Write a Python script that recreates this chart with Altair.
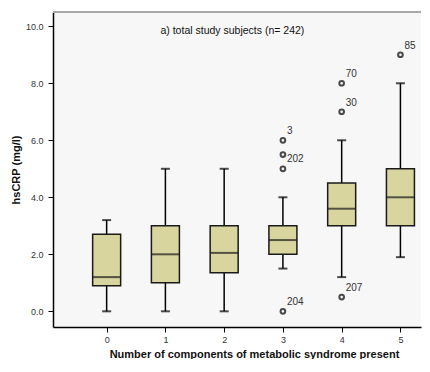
import altair as alt
import pandas as pd

# ---- data ----
groups = [0, 1, 2, 3, 4, 5]
whisker_low = [0.0, 0.0, 0.0, 1.5, 1.2, 1.9]
q1 = [0.9, 1.0, 1.35, 2.0, 3.0, 3.0]
median = [1.2, 2.0, 2.05, 2.5, 3.6, 4.0]
q3 = [2.7, 3.0, 3.0, 3.0, 4.5, 5.0]
whisker_high = [3.2, 5.0, 5.0, 4.0, 6.0, 8.0]

outlier_group = [3, 3, 3, 3, 4, 4, 4, 5]
outlier_value = [6.0, 5.5, 5.0, 0.0, 8.0, 7.0, 0.5, 9.0]
outlier_label = ["3", "202", "", "204", "70", "30", "207", "85"]
outlier_side = ["up", "right", "none", "up", "up", "up", "up", "up"]

title_text = "a) total study subjects (n= 242)"

box_df = pd.DataFrame({
    "g": groups, "lo": whisker_low, "q1": q1, "med": median,
    "q3": q3, "hi": whisker_high,
})
out_df = pd.DataFrame({
    "g": outlier_group, "v": outlier_value,
    "lab": outlier_label, "side": outlier_side,
})

FONT = "Liberation Sans"
W = 368
H = 315
xscale = alt.Scale(domain=[-0.828, 5.265], nice=False, zero=False)
yscale = alt.Scale(domain=[-0.55, 10.5], nice=False, zero=False)

xenc = alt.X("g:Q", scale=xscale, axis=alt.Axis(
    values=groups, format="d", title="Number of components of metabolic syndrome present",
    grid=False, domainColor="#000000", tickColor="#000000", tickSize=5,
    labelFont=FONT, labelFontSize=9, labelColor="#333333", labelPadding=3,
    titleFont=FONT, titleFontSize=11, titleFontWeight="bold", titleColor="#111111",
    titlePadding=4, titleX=201, titleAlign="center", domainWidth=1.5))

base = alt.Chart(box_df)

whisk = base.mark_rule(color="#000000", strokeWidth=1.5).encode(
    x=xenc,
    y=alt.Y("lo:Q", scale=yscale, axis=alt.Axis(
        values=[0, 2, 4, 6, 8, 10], format=".1f", title="hsCRP (mg/l)",
        grid=False, domainColor="#000000", tickColor="#000000", tickSize=5,
        labelFont=FONT, labelFontSize=9, labelColor="#333333", labelPadding=5,
        titleFont=FONT, titleFontSize=11, titleFontWeight="bold", titleColor="#111111",
        titlePadding=4, domainWidth=1.5)),
    y2="hi:Q",
)

top_border = base.mark_rule(color="#a8a8a8", strokeWidth=1.5).encode(
    x=alt.value(0), x2=alt.value(W), y=alt.value(0))

cap_lo = base.mark_tick(orient="horizontal", size=9, thickness=2, color="#000000").encode(
    x="g:Q", y="lo:Q")
cap_hi = base.mark_tick(orient="horizontal", size=9, thickness=2, color="#000000").encode(
    x="g:Q", y="hi:Q")

boxes = base.mark_bar(size=28, fill="#d9d59e", stroke="#1a1a1a", strokeWidth=1.5).encode(
    x="g:Q", y="q1:Q", y2="q3:Q")

meds = base.mark_tick(orient="horizontal", size=28, thickness=2, color="#1a1a1a").encode(
    x="g:Q", y="med:Q")

pts = alt.Chart(out_df).mark_point(shape="circle", filled=False, color="#000000",
                                   strokeWidth=2, size=22).encode(x="g:Q", y="v:Q")

lab_up = alt.Chart(out_df).transform_filter(alt.datum.side == "up").mark_text(
    align="left", baseline="middle", dx=4, dy=-9, font=FONT, fontSize=10, color="#333333"
).encode(x="g:Q", y="v:Q", text="lab:N")

lab_right = alt.Chart(out_df).transform_filter(alt.datum.side == "right").mark_text(
    align="left", baseline="middle", dx=4, dy=4, font=FONT, fontSize=10, color="#333333"
).encode(x="g:Q", y="v:Q", text="lab:N")

title_df = pd.DataFrame({"x": [2.14], "y": [9.82], "t": [title_text]})
title_mark = alt.Chart(title_df).mark_text(
    align="center", baseline="middle", font=FONT, fontSize=10.5, color="#111111"
).encode(x="x:Q", y="y:Q", text="t:N")

chart = alt.layer(whisk, top_border, cap_lo, cap_hi, boxes, meds, pts, lab_up, lab_right,
                  title_mark).properties(
    width=W, height=H, background="#ffffff",
    padding={"left": 2, "top": 3, "right": 0, "bottom": 0},
).configure_view(fill="#f7f7f7", stroke=None)

chart.save("out.html", embed_options={"renderer": "svg", "actions": False})
